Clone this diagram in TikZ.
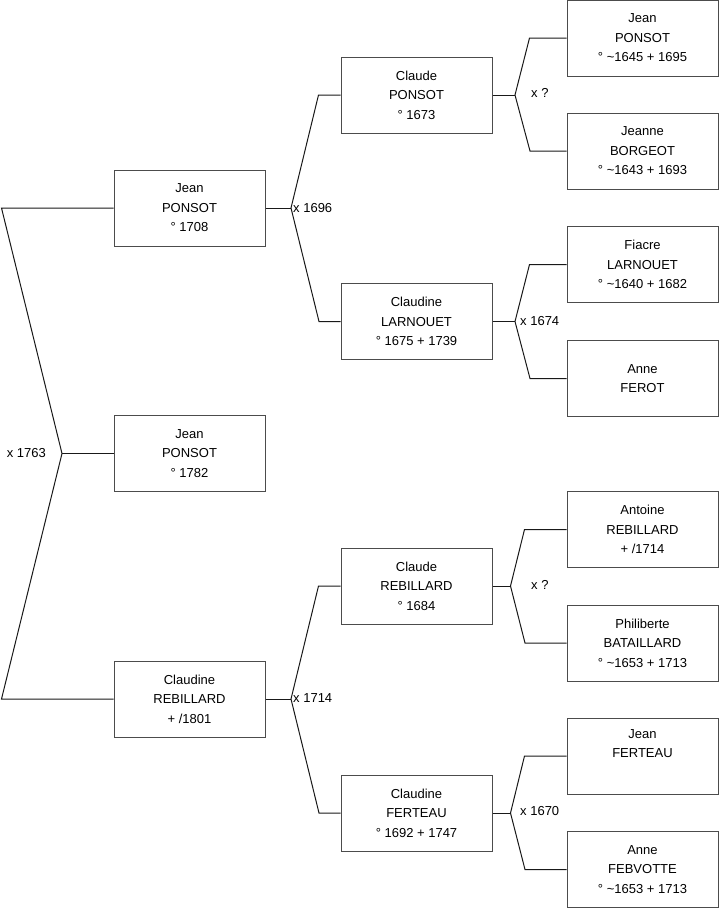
\documentclass[tikz,border=0pt]{standalone}
\usepackage{fontspec}
\setmainfont{Liberation Sans}
\begin{document}
\begin{tikzpicture}[x=1pt,y=-1pt,
  person/.style={draw=black!70, line width=1pt, fill=white, minimum width=151pt, minimum height=76pt,
    inner sep=0pt, align=center, font=\fontsize{13}{19.5}\selectfont},
  link/.style={draw=black!90, line width=1pt},
  mlabel/.style={inner sep=0pt, font=\fontsize{13}{15}\selectfont}]
\useasboundingbox (0,0) rectangle (719,908);
% column 1
\node[person] (a) at (189.5,208) {Jean\\PONSOT\\° 1708};
\node[person] (b) at (189.5,453.5) {Jean\\PONSOT\\° 1782};
\node[person] (c) at (189.5,699) {Claudine\\REBILLARD\\+ /1801};
% column 2
\node[person] (d) at (416.5,95) {Claude\\PONSOT\\° 1673};
\node[person] (e) at (416.5,321.5) {Claudine\\LARNOUET\\° 1675 + 1739};
\node[person] (f) at (416.5,586) {Claude\\REBILLARD\\° 1684};
\node[person] (g) at (416.5,813) {Claudine\\FERTEAU\\° 1692 + 1747};
% column 3
\node[person] (h) at (642.5,38) {Jean\\PONSOT\\° \textasciitilde1645 + 1695};
\node[person] (i) at (642.5,151) {Jeanne\\BORGEOT\\° \textasciitilde1643 + 1693};
\node[person] (j) at (642.5,264.5) {Fiacre\\LARNOUET\\° \textasciitilde1640 + 1682};
\node[person] (k) at (642.5,378.5) {Anne\\FEROT};
\node[person] (l) at (642.5,529.5) {Antoine\\REBILLARD\\+ /1714};
\node[person] (m) at (642.5,643) {Philiberte\\BATAILLARD\\° \textasciitilde1653 + 1713};
\node[person] (n) at (642.5,756) {Jean\\FERTEAU\\\strut};
\node[person] (o) at (642.5,869.5) {Anne\\FEBVOTTE\\° \textasciitilde1653 + 1713};
% junction coordinates
\coordinate (t0) at (1.5,208);
\coordinate (j0) at (62,453.5);
\coordinate (b0) at (1.5,699);
\coordinate (ja) at (291,208);
\coordinate (jc) at (291,699);
\coordinate (jd) at (515,95);
\coordinate (je) at (515,321.5);
\coordinate (jf) at (510.5,586);
\coordinate (jg) at (510.5,813);
% connectors
\draw[link] (a.west) -- (t0) -- (j0) -- (b0) -- (c.west);
\draw[link] (j0) -- (b.west);
\draw[link] (a.east) -- (ja);
\draw[link] (d.west) -- ++(-22,0) -- (ja) -- (319,321.5) -- (e.west);
\draw[link] (c.east) -- (jc);
\draw[link] (f.west) -- ++(-22,0) -- (jc) -- (319,813) -- (g.west);
\draw[link] (d.east) -- (jd);
\draw[link] (h.west) -- ++(-37,0) -- (jd) -- (530,151) -- (i.west);
\draw[link] (e.east) -- (je);
\draw[link] (j.west) -- ++(-37,0) -- (je) -- (530,378.5) -- (k.west);
\draw[link] (f.east) -- (jf);
\draw[link] (l.west) -- ++(-42,0) -- (jf) -- (525,643) -- (m.west);
\draw[link] (g.east) -- (jg);
\draw[link] (n.west) -- ++(-42,0) -- (jg) -- (525,869.5) -- (o.west);
% labels
\node[mlabel, anchor=east] (l0) at (46,453) {x 1763};
\node[mlabel, anchor=west] (la) at (293,208) {x 1696};
\node[mlabel, anchor=west] (lc) at (293,698) {x 1714};
\node[mlabel, anchor=west] (ld) at (531,93) {x ?};
\node[mlabel, anchor=west] (le) at (520,321) {x 1674};
\node[mlabel, anchor=west] (lf) at (531,585) {x ?};
\node[mlabel, anchor=west] (lg) at (520,811) {x 1670};
\end{tikzpicture}
\end{document}
